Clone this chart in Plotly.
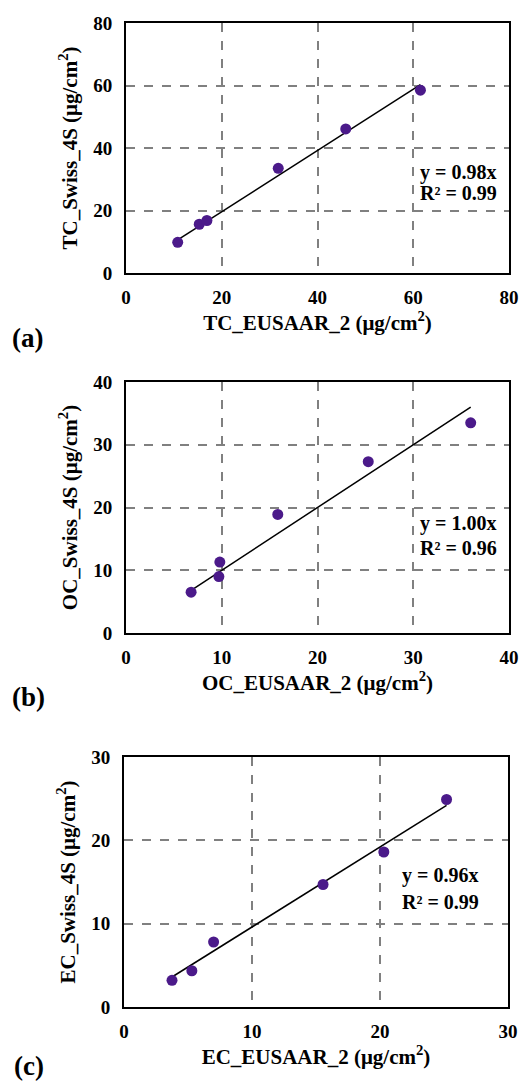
import plotly.graph_objects as go

W, H = 532, 1082

# ---- data ----
tc_x = [10.8, 15.3, 16.9, 31.8, 45.9, 61.5]
tc_y = [9.8, 15.6, 16.8, 33.5, 46.1, 58.5]
oc_x = [6.8, 9.7, 9.8, 15.85, 25.3, 36.0]
oc_y = [6.5, 9.0, 11.3, 18.9, 27.3, 33.5]
ec_x = [3.75, 5.3, 7.0, 15.55, 20.3, 25.2]
ec_y = [3.2, 4.35, 7.8, 14.7, 18.6, 24.9]
slopes = [0.98, 1.00, 0.96]
r2 = [0.99, 0.96, 0.99]
x_titles = ["TC_EUSAAR_2 (μg/cm<sup>2</sup>)", "OC_EUSAAR_2 (μg/cm<sup>2</sup>)", "EC_EUSAAR_2 (μg/cm<sup>2</sup>)"]
y_titles = ["TC_Swiss_4S (μg/cm<sup>2</sup>)", "OC_Swiss_4S (μg/cm<sup>2</sup>)", "EC_Swiss_4S (μg/cm<sup>2</sup>)"]
axis_max = [80, 40, 30]
tick_step = [20, 10, 10]
panel_labels = ["(a)", "(b)", "(c)"]

# ---- layout (pixel boxes: left, right, top, bottom) ----
boxes = [(126, 509, 23, 273), (126, 509, 382, 633), (124, 508, 757, 1007)]
label_pos = [(10, 338), (10, 697), (12, 1066)]
eq_pos = [(418, 172, 193), (418, 523, 548), (400, 875, 902)]

FONT = "Liberation Serif"
purple = "#4b1a8a"
grid = "#808080"


def f(size):
    return dict(family=FONT, size=size, color="black", weight="bold")


fig = go.Figure()
data = [(tc_x, tc_y), (oc_x, oc_y), (ec_x, ec_y)]
annotations = []
for i, ((xs, ys), (l, r, t, b)) in enumerate(zip(data, boxes)):
    n = "" if i == 0 else str(i + 1)
    xa, ya = "x" + n, "y" + n
    # trend line through origin
    lx = [min(xs), max(xs)]
    ly = [slopes[i] * v for v in lx]
    fig.add_trace(go.Scatter(x=lx, y=ly, mode="lines", line=dict(color="black", width=1.5),
                             xaxis=xa, yaxis=ya, showlegend=False, hoverinfo="skip"))
    fig.add_trace(go.Scatter(x=xs, y=ys, mode="markers",
                             marker=dict(color=purple, size=11, line=dict(width=0)),
                             xaxis=xa, yaxis=ya, showlegend=False))
    axcommon = dict(showgrid=True, gridcolor=grid, gridwidth=1.5, griddash="dash",
                    showline=True, linecolor="black", linewidth=2, mirror=True,
                    zeroline=False, ticks="", tickfont=f(19), automargin=False,
                    range=[0, axis_max[i]], dtick=tick_step[i], tick0=0)
    fig.update_layout(**{
        "xaxis" + n: dict(domain=[l / W, r / W], anchor=ya,
                          title=dict(text=x_titles[i], font=f(21), standoff=4),
                          ticklabelstandoff=6, **axcommon),
        "yaxis" + n: dict(domain=[1 - b / H, 1 - t / H], anchor=xa,
                          title=dict(text=y_titles[i], font=f(21), standoff=10),
                          ticklabelstandoff=8, **axcommon),
    })
    ex, ey1, ey2 = eq_pos[i]
    for txt, yy in [(f"y = {slopes[i]:.2f}x", ey1), (f"R² = {r2[i]:.2f}", ey2)]:
        annotations.append(dict(text=txt, x=ex / W, y=1 - yy / H, xref="paper", yref="paper",
                                xanchor="left", yanchor="middle", showarrow=False, font=f(20)))
    lx0, ly0 = label_pos[i]
    annotations.append(dict(text=panel_labels[i], x=lx0 / W, y=1 - ly0 / H,
                            xref="paper", yref="paper", xanchor="left", yanchor="middle",
                            showarrow=False, font=f(27)))

fig.update_layout(width=W, height=H, margin=dict(l=0, r=0, t=0, b=0),
                  paper_bgcolor="white", plot_bgcolor="white",
                  font=dict(family=FONT, color="black"),
                  annotations=annotations)
fig.write_html("out.html", config={"displayModeBar": False},
               post_script="document.body.style.margin='0';document.body.style.overflow='hidden';")
